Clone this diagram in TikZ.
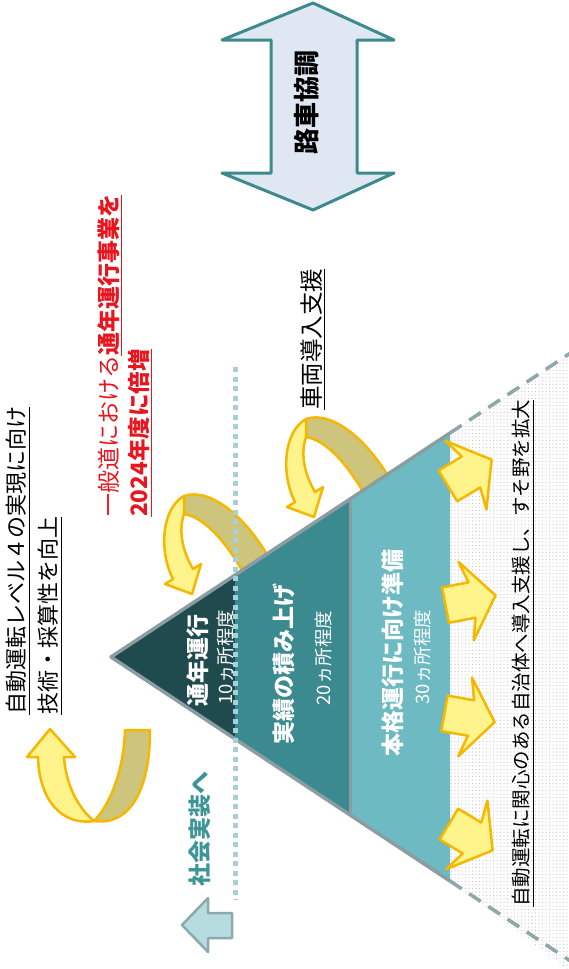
\documentclass[tikz,border=0pt]{standalone}
\usepackage{fontspec}
\setmainfont{Noto Sans CJK JP}
\usetikzlibrary{patterns.meta}
\definecolor{darkT}{HTML}{1F4B4E}
\definecolor{midT}{HTML}{3A8A8F}
\definecolor{lightT}{HTML}{6DBAC2}
\definecolor{edgeG}{HTML}{8C9DA1}
\definecolor{dotB}{HTML}{A9CFDC}
\definecolor{yelL}{HTML}{FFF38C}
\definecolor{yelD}{HTML}{CDC57B}
\definecolor{goldC}{HTML}{F5B700}
\definecolor{redT}{HTML}{E8141E}
\definecolor{tealT}{HTML}{3E9598}
\definecolor{arrF}{HTML}{DFE8F2}
\definecolor{arrS}{HTML}{3C8A8C}
\definecolor{lbF}{HTML}{B7DCDF}
\definecolor{lbS}{HTML}{8EA9AA}
\definecolor{dashC}{HTML}{8FA7A8}
\newsavebox\ulbox
\newcommand\ulx[1]{\sbox\ulbox{#1}\rlap{\rule[-5pt]{\wd\ulbox}{1pt}}\usebox\ulbox}
\newcommand\curvarrow{%
  \filldraw[ribbonD] (306,419) .. controls (332,410) and (370,440) .. (396,490) -- (372,508) .. controls (350,465) and (326,440) .. (306,437) -- cycle;
  \filldraw[ribbonL] (306,437) .. controls (300,455) and (305,475) .. (315,492) -- (323,487) -- (314,517) -- (287,507) -- (295,502) .. controls (281,475) and (283,432) .. (306,419) -- cycle;}
\newcommand\blockarrow{%
  \filldraw[blockA] (-27,-18) -- (0,-18) -- (-6,-40) -- (24,0) -- (-6,40) -- (0,18) -- (-27,18) -- cycle;}
\begin{document}
\begin{tikzpicture}[x=1pt,y=-1pt,line join=round,
  ribbonD/.style={fill=yelD,draw=goldC,line width=2.5pt},
  ribbonL/.style={fill=yelL,draw=goldC,line width=2.5pt},
  blockA/.style={fill=yelL,draw=goldC,line width=2.5pt},
  dashline/.style={draw=dashC,line width=3.5pt,dash pattern=on 14pt off 9pt},
  vt/.style={rotate=90,inner sep=0pt,anchor=west},
  ct/.style={rotate=90,inner sep=0pt},
  big/.style={font=\fontsize{23}{27}\selectfont\bfseries,text=white},
  small/.style={font=\fontsize{18.5}{22}\selectfont,text=white}]
\useasboundingbox (0,0) rectangle (569,969);
\coordinate (apex) at (111,657);
\coordinate (tr) at (450,433);
\coordinate (br) at (450,881);
\coordinate (d1t) at (235,575);
\coordinate (d1b) at (235,739);
\coordinate (d2t) at (350,499);
\coordinate (d2b) at (350,815);
\coordinate (dtop) at (575,350);
\coordinate (dbot) at (575,964);
% dotted region
\fill[pattern={Dots[distance=3.5pt,radius=0.55pt]},pattern color=gray!45] (tr) -- (dtop) -- (575,975) -- (br) -- cycle;
\draw[dashline] (tr) -- (dtop);
\draw[dashline] (br) -- (dbot);
% curved arrows behind triangle
\curvarrow
\begin{scope}[shift={(-122,77)}]\curvarrow\end{scope}
% triangle
\fill[darkT] (apex) -- (d1t) -- (d1b) -- cycle;
\fill[midT] (d1t) -- (d2t) -- (d2b) -- (d1b) -- cycle;
\fill[lightT] (d2t) -- (tr) -- (br) -- (d2b) -- cycle;
\draw[edgeG,line width=3.5pt] (tr) -- (apex) -- (br);
\draw[edgeG,line width=3pt] (d2t) -- (d2b);
% dotted vertical line
\coordinate (vt1) at (235,367);
\coordinate (vt2) at (235,900);
\draw[dotB,line width=5pt,dash pattern=on 5pt off 4.5pt] (vt1) -- (vt2);
% block arrows at base
\begin{scope}[shift={(471,472)},rotate=31]\blockarrow\end{scope}
\begin{scope}[shift={(472,600)},rotate=11]\blockarrow\end{scope}
\begin{scope}[shift={(471,718)},rotate=-10]\blockarrow\end{scope}
\begin{scope}[shift={(472,838)},rotate=-31]\blockarrow\end{scope}
% bottom-left U arrow
\filldraw[ribbonD] (94,821) .. controls (130,826) and (150,790) .. (150,730) -- (125,730) .. controls (124,770) and (110,805) .. (94,821) -- cycle;
\filldraw[ribbonL] (38,757) -- (27,757) -- (50,729) -- (75,757) -- (64,757) .. controls (66,785) and (78,808) .. (94,821) .. controls (62,826) and (39,800) .. (38,757) -- cycle;
% double arrow
\filldraw[fill=arrF,draw=arrS,line width=3pt] (313,3) -- (394,40) -- (357,40) -- (357,173) -- (394,173) -- (313,210) -- (222,173) -- (271,173) -- (271,40) -- (222,40) -- cycle;
\node[ct,font=\fontsize{26}{30}\selectfont\bfseries] (rsk) at (307,102) {路車協調};
% left arrow
\filldraw[fill=lbF,draw=lbS,line width=2.5pt] (232,913) -- (208,913) -- (208,898) -- (182,925) -- (208,952) -- (208,938) -- (232,938) -- cycle;
\node[vt,font=\fontsize{23}{27}\selectfont\bfseries,text=tealT] (shakai) at (200,887) {社会実装へ};
% texts
\node[vt,font=\fontsize{22}{26}\selectfont] (l1) at (18,715) {\ulx{自動運転レベル４の実現に向け}};
\node[vt,font=\fontsize{22}{26}\selectfont] (l2) at (50,715) {\ulx{技術・採算性を向上}};
\node[vt,text=redT,font=\fontsize{23}{27}\selectfont] (r1) at (110,517) {一般道における\textbf{\ulx{通年運行事業を}}};
\node[vt,text=redT,font=\fontsize{22.5}{27}\selectfont\bfseries] (r2) at (140,517) {\ulx{2024年度に倍増}};
\node[vt,font=\fontsize{23.5}{27}\selectfont] (sharyo) at (313,410) {\ulx{車両導入支援}};
\node[vt,font=\fontsize{19.5}{23}\selectfont] (rtext) at (523,907) {\ulx{自動運転に関心のある自治体へ導入支援し、すそ野を拡大}};
% triangle labels
\node[ct,big] (t1) at (198,660) {通年運行};
\node[ct,small] (t1s) at (225,657) {10ヵ所程度};
\node[ct,big] (t2) at (284,664) {実績の積み上げ};
\node[ct,small] (t2s) at (323,658) {20ヵ所程度};
\node[ct,big] (t3) at (393,653) {本格運行に向け準備};
\node[ct,small] (t3s) at (422,657) {30ヵ所程度};
\end{tikzpicture}
\end{document}
